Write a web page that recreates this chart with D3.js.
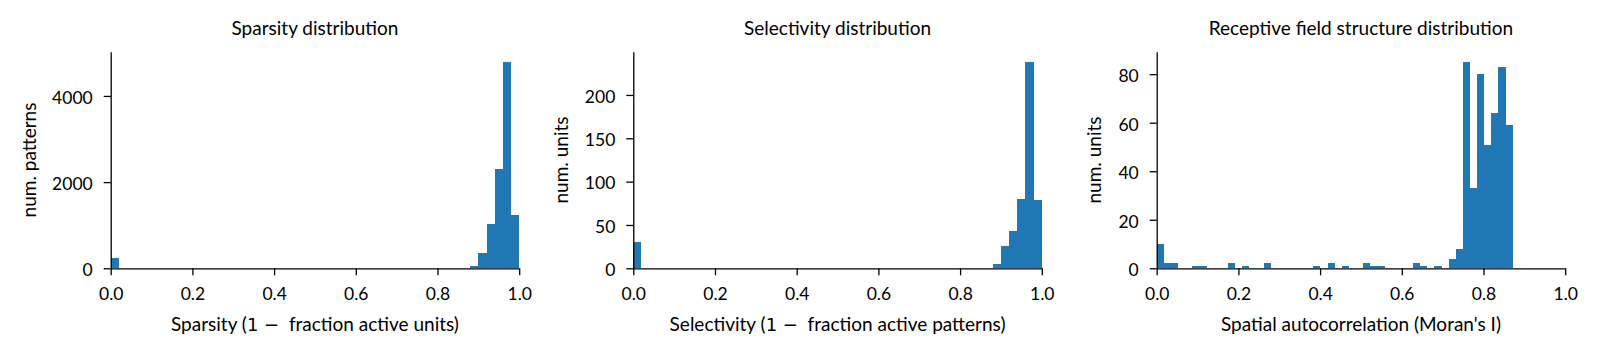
<!DOCTYPE html>
<html>
<head>
<meta charset="utf-8">
<script src="https://cdn.jsdelivr.net/npm/d3@7"></script>
<style>
  html, body { margin: 0; padding: 0; background: #fff; }
  svg text { font-family: Lato, "Noto Sans", sans-serif; fill: #000; }
</style>
</head>
<body>
<svg id="chart" width="1597" height="358"></svg>
<script>
// ---------------- data ----------------
const xTicks = [0, 0.2, 0.4, 0.6, 0.8, 1.0];

// 50-bin histograms
const sparsityRange = [0, 1];
const sparsityCounts = [
  240, 0, 0, 0, 0, 0, 0, 0, 0, 0,
  0, 0, 0, 0, 0, 0, 0, 0, 0, 0,
  0, 0, 0, 0, 0, 0, 0, 0, 0, 0,
  0, 0, 0, 0, 0, 0, 0, 0, 0, 0,
  0, 0, 0, 0, 45, 355, 1028, 2304, 4787, 1244
];
const sparsityYTicks = [0, 2000, 4000];

const selectivityRange = [0, 1];
const selectivityCounts = [
  30, 0, 0, 0, 0, 0, 0, 0, 0, 0,
  0, 0, 0, 0, 0, 0, 0, 0, 0, 0,
  0, 0, 0, 0, 0, 0, 0, 0, 0, 0,
  0, 0, 0, 0, 0, 0, 0, 0, 0, 0,
  0, 0, 0, 0, 5, 26, 43, 80, 238, 79
];
const selectivityYTicks = [0, 50, 100, 150, 200];

const moranRange = [0, 0.8715];
const moranCounts = [
  10, 2, 2, 0, 0, 1, 1, 0, 0, 0,
  2, 0, 1, 0, 0, 2, 0, 0, 0, 0,
  0, 0, 1, 0, 2, 0, 1, 0, 0, 2,
  1, 1, 0, 0, 0, 0, 2, 1, 0, 1,
  0, 4, 8, 85, 33, 80, 51, 64, 83, 59
];
const moranYTicks = [0, 20, 40, 60, 80];

const titles = ["Sparsity distribution", "Selectivity distribution", "Receptive field structure distribution"];
const yLabels = ["num. patterns", "num. units", "num. units"];
// x labels: [before math, math part, after math]
const xLabels = [
  ["Sparsity (", "1 \u2212", "  fraction active units)"],
  ["Selectivity (", "1 \u2212", "  fraction active patterns)"],
  ["Spatial autocorrelation (Moran's I)", "", ""]
];

// ---------------- layout ----------------
const svg = d3.select("#chart");
const lefts = [110.7, 633.3, 1156.7];
const yLabelX = [35.7, 567.5, 1100.7];
const axW = 408.5;
const axTop = 51.7, axBot = 268.3;
const color = "#1f77b4";

const panels = [
  {counts: sparsityCounts, range: sparsityRange, yTicks: sparsityYTicks},
  {counts: selectivityCounts, range: selectivityRange, yTicks: selectivityYTicks},
  {counts: moranCounts, range: moranRange, yTicks: moranYTicks}
];

panels.forEach((p, i) => {
  const x0 = lefts[i];
  const x = d3.scaleLinear().domain([0, 1]).range([x0, x0 + axW]);
  const y = d3.scaleLinear().domain([0, d3.max(p.counts) * 1.05]).range([axBot, axTop]);
  const n = p.counts.length;
  const bw = (p.range[1] - p.range[0]) / n;
  const bins = p.counts.map((c, k) => ({
    a: p.range[0] + k * bw,
    b: p.range[0] + (k + 1) * bw,
    c: c
  })).filter(d => d.c > 0);

  const g = svg.append("g");
  g.selectAll("rect").data(bins).enter().append("rect")
    .attr("x", d => x(d.a))
    .attr("width", d => x(d.b) - x(d.a))
    .attr("y", d => y(d.c))
    .attr("height", d => y(0) - y(d.c))
    .attr("fill", color)
    .attr("shape-rendering", "crispEdges");

  // x axis
  const xa = svg.append("g")
    .attr("transform", `translate(0,${axBot})`)
    .call(d3.axisBottom(x).tickValues(xTicks).tickFormat(d3.format(".1f"))
      .tickSize(7).tickSizeOuter(0).tickPadding(12));
  xa.selectAll("text").attr("font-size", "17.5px").attr("font-family", "Lato");

  // y axis
  const ya = svg.append("g")
    .attr("transform", `translate(${x0},0)`)
    .call(d3.axisLeft(y).tickValues(p.yTicks).tickFormat(d3.format("d"))
      .tickSize(7).tickSizeOuter(0).tickPadding(11));
  ya.selectAll("text").attr("font-size", "17.5px").attr("font-family", "Lato").attr("dy", "0.42em");

  [xa, ya].forEach(a => {
    a.select(".domain").attr("stroke", "#000").attr("stroke-width", 1.3);
    a.selectAll(".tick line").attr("stroke", "#000").attr("stroke-width", 1.3);
  });

  // title
  svg.append("text")
    .attr("x", x0 + axW / 2).attr("y", 35)
    .attr("text-anchor", "middle")
    .attr("font-size", "19px")
    .text(titles[i]);

  // x label
  const xl = svg.append("text")
    .attr("x", x0 + axW / 2).attr("y", 331)
    .attr("text-anchor", "middle")
    .attr("font-size", "19px");
  xl.append("tspan").text(xLabels[i][0]);
  if (xLabels[i][1]) {
    xl.append("tspan").attr("font-family", "DejaVu Sans").attr("font-size", "18px").text(xLabels[i][1]);
    xl.append("tspan").attr("style", "white-space:pre").text(xLabels[i][2]);
  }

  // y label
  svg.append("text")
    .attr("transform", `translate(${yLabelX[i]},${(axTop + axBot) / 2}) rotate(-90)`)
    .attr("text-anchor", "middle")
    .attr("font-size", "19px")
    .text(yLabels[i]);
});
</script>
</body>
</html>
